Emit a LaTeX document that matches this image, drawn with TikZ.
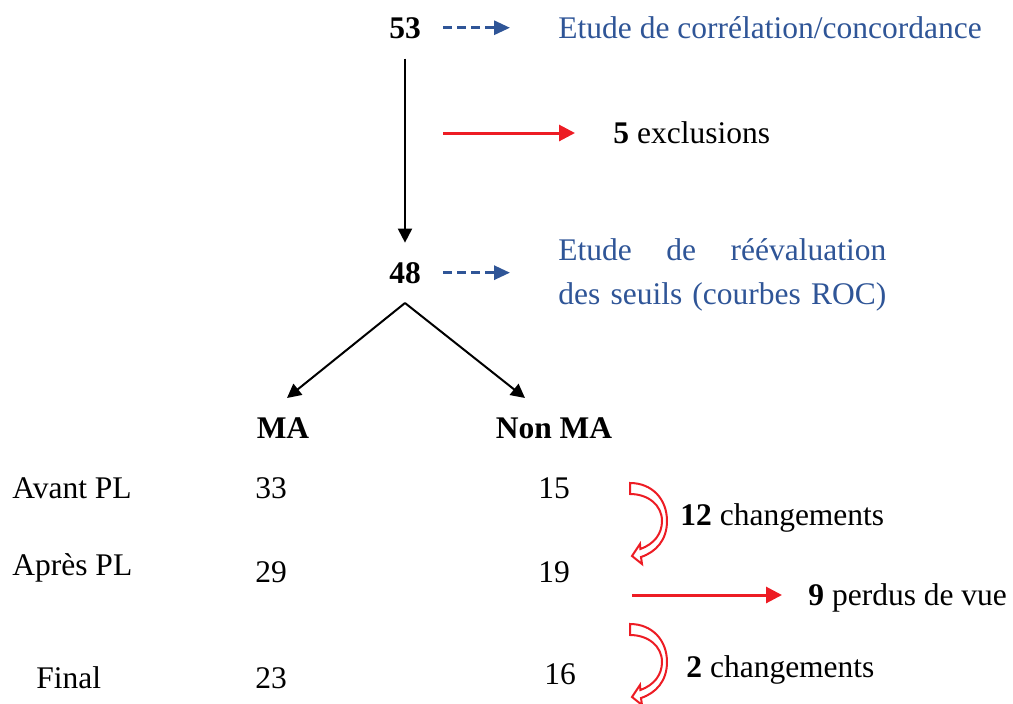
\documentclass[tikz,border=0pt]{standalone}
\usepackage{fontspec}
\setmainfont{Liberation Serif}
\usetikzlibrary{arrows.meta,positioning}

\definecolor{roc}{RGB}{47,85,151}
\definecolor{flag}{RGB}{237,28,36}

\tikzset{
  turn/.pic={
    \draw[flag,fill=white,line width=1pt,line join=miter]
      (0,0) .. controls (22,0) and (37,16) .. (37,38)
      .. controls (37,57) and (26,69) .. (11,74)
      -- (12,81) -- (2,73) -- (10,61) -- (10.4,66)
      .. controls (24,61) and (32,51) .. (32,38)
      .. controls (32,22) and (18,11) .. (0,11) -- cycle;
  }
}

\begin{document}
\begin{tikzpicture}
    [x=0.5pt,y=-0.5pt,
     every node/.style={font=\fontsize{15.75pt}{22pt}\selectfont,inner sep=3pt},
     lbl/.style={anchor=base},
     lft/.style={anchor=base west},
     flow/.style={-{Triangle[length=7pt,width=7pt]},line width=1pt},
     hint/.style={-{Triangle[length=8pt,width=7pt]},roc,line width=1.5pt,dash pattern=on 4.3pt off 2.7pt},
     lost/.style={-{Triangle[length=8pt,width=8pt]},flag,line width=1.5pt}]
    \useasboundingbox (0,0) rectangle (1013,703);

    % flow chart
    \node[lbl] (n53) at (405,38) {\textbf{53}};
    \node[lft,roc] (corr) at (552,38) {Etude de corrélation/concordance};
    \node[lft] (excl) at (607,143) {\textbf{5} exclusions};
    \node[lbl] (n48) at (405,283) {\textbf{48}};
    \node[anchor=west,text width=164pt,align=left,roc] (reeval) at (552,275)
        {Etude\hfill de\hfill réévaluation\\des\hfill seuils\hfill (courbes\hfill ROC)};

    \coordinate (cut) at (443,133);
    \coordinate (fork) at (405,303);
    \coordinate (toMA) at (287,398);
    \coordinate (toNon) at (525,398);

    \draw[flow,shorten <=7pt,shorten >=6.5pt] (n53) -- (n48);
    \draw[hint,shorten <=8pt,shorten >=21pt] (n53.east) -- (n53.east -| corr.west);
    \draw[hint,shorten <=8pt,shorten >=21pt] (n48.east) -- (n48.east -| reeval.west);
    \draw[lost,shorten >=16pt] (cut) -- (cut -| excl.west);
    \draw[flow] (fork) -- (toMA);
    \draw[flow] (fork) -- (toNon);

    % table
    \node[lbl] (ma) at (283,438) {\textbf{MA}};
    \node[lbl] (nonma) at (554,438) {\textbf{Non MA}};

    \node[lft] (avant) at (6,498) {Avant PL};
    \node[lft] (apres) at (6,575) {Après PL};
    \node[lft] (final) at (30,688) {Final};

    \node[lbl] (a33) at (271,498) {33};
    \node[lbl] (a15) at (554,498) {15};
    \node[lbl] (b29) at (271,582) {29};
    \node[lbl] (b19) at (554,582) {19};
    \node[lbl] (c23) at (271,688) {23};
    \node[lbl] (c16) at (560,684) {16};

    % changes
    \pic at (630,483) {turn};
    \pic at (630,624) {turn};
    \node[lft] (chg1) at (674,525) {\textbf{12} changements};
    \node[lft] (chg2) at (680,677) {\textbf{2} changements};
    \node[lft] (perdus) at (802,605) {\textbf{9} perdus de vue};
    \coordinate (gone) at (632,595);
    \draw[lost,shorten >=10pt] (gone) -- (gone -| perdus.west);

\end{tikzpicture}
\end{document}
